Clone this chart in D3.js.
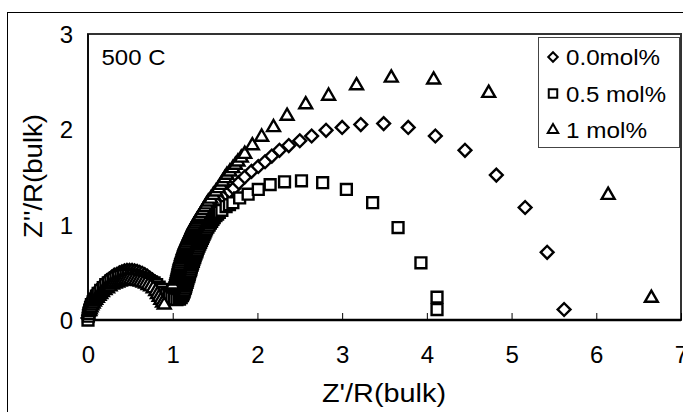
<!DOCTYPE html>
<html>
  <head>
    <meta charset="utf-8">
    <title>Nyquist 500 C</title>
    <script type="text/javascript" src="https://d3js.org/d3.v7.min.js"></script>
    <style>
      body { margin:0; background:#fff; }
      text { font-family: Arial, "Liberation Sans", sans-serif; fill:#000; }
    </style>
  </head>
  <body>
    <svg width="683" height="412"></svg>
    <script>
    	// tick labels and names
    	var xTicks = [0,1,2,3,4,5,6,7];
    	var yTicks = [0,1,2,3];
    	var seriesNames = ["0.0mol%","0.5 mol%","1 mol%"];

    	// 0.0mol% (diamonds)
    	var d00 = [[0.00,0.02],[0.01,0.05],[0.015,0.08],[0.02,0.11],[0.03,0.14],[0.04,0.17],[0.05,0.20],[0.07,0.23],
    		[0.09,0.26],[0.11,0.29],[0.13,0.32],[0.16,0.35],[0.19,0.38],[0.22,0.41],[0.25,0.43],[0.28,0.45],
    		[0.31,0.47],[0.34,0.48],[0.37,0.495],[0.40,0.505],[0.43,0.515],[0.46,0.52],[0.49,0.52],[0.52,0.52],
    		[0.55,0.515],[0.58,0.51],[0.61,0.50],[0.64,0.49],[0.67,0.475],[0.70,0.46],[0.73,0.44],[0.76,0.42],
    		[0.79,0.40],[0.82,0.38],[0.85,0.355],[0.88,0.33],[0.91,0.30],[0.94,0.275],[0.97,0.255],[1.00,0.24],
    		[1.03,0.245],[1.05,0.26],[1.07,0.29],[1.08,0.31],[1.085,0.33],[1.09,0.35],[1.095,0.37],[1.10,0.39],
    		[1.105,0.41],[1.11,0.43],[1.115,0.45],[1.12,0.47],[1.13,0.49],[1.135,0.51],[1.14,0.53],[1.15,0.55],
    		[1.155,0.57],[1.16,0.59],[1.17,0.61],[1.175,0.63],[1.18,0.65],[1.19,0.67],[1.20,0.69],[1.205,0.71],
    		[1.215,0.73],[1.22,0.75],[1.23,0.77],[1.24,0.79],[1.25,0.81],[1.255,0.83],[1.265,0.85],[1.275,0.87],
    		[1.285,0.89],[1.295,0.91],[1.305,0.93],[1.315,0.95],[1.33,0.97],[1.34,0.99],[1.355,1.01],[1.37,1.03],
    		[1.385,1.05],[1.40,1.07],[1.42,1.10],[1.45,1.14],[1.48,1.18],[1.51,1.21],[1.55,1.25],[1.59,1.29],
    		[1.63,1.32],[1.67,1.35],[1.72,1.38],[1.78,1.44],[1.85,1.50],[1.93,1.56],[2.01,1.61],[2.09,1.66],
    		[2.17,1.72],[2.26,1.78],[2.37,1.83],[2.50,1.88],[2.64,1.93],[2.81,1.99],[3.00,2.02],[3.22,2.05],
    		[3.49,2.06],[3.78,2.02],[4.10,1.93],[4.45,1.78],[4.82,1.52],[5.16,1.18],[5.42,0.71],[5.62,0.11]];

    	// 0.5 mol% (squares)
    	var d05 = [[0.00,0.00],[0.005,0.04],[0.01,0.07],[0.02,0.10],[0.03,0.13],[0.04,0.16],[0.06,0.19],[0.08,0.22],
    		[0.10,0.25],[0.12,0.28],[0.15,0.31],[0.18,0.34],[0.21,0.37],[0.24,0.39],[0.27,0.41],[0.30,0.425],
    		[0.33,0.44],[0.36,0.45],[0.39,0.46],[0.42,0.465],[0.45,0.47],[0.48,0.47],[0.51,0.47],[0.54,0.465],
    		[0.57,0.46],[0.60,0.45],[0.63,0.44],[0.66,0.43],[0.69,0.42],[0.72,0.41],[0.75,0.40],[0.78,0.39],
    		[0.81,0.37],[0.84,0.345],[0.87,0.32],[0.90,0.29],[0.93,0.265],[0.96,0.245],[0.99,0.23],[1.02,0.22],
    		[1.05,0.215],[1.08,0.22],[1.10,0.235],[1.115,0.255],[1.125,0.275],[1.135,0.295],[1.14,0.315],[1.15,0.335],
    		[1.155,0.355],[1.16,0.375],[1.17,0.395],[1.175,0.415],[1.18,0.435],[1.19,0.455],[1.195,0.475],[1.20,0.495],
    		[1.21,0.515],[1.215,0.535],[1.22,0.555],[1.23,0.575],[1.235,0.595],[1.245,0.615],[1.25,0.635],[1.26,0.655],
    		[1.265,0.675],[1.275,0.695],[1.285,0.715],[1.29,0.735],[1.30,0.755],[1.31,0.775],[1.32,0.795],[1.33,0.815],
    		[1.34,0.835],[1.35,0.855],[1.36,0.875],[1.37,0.895],[1.38,0.915],[1.39,0.935],[1.40,0.955],[1.415,0.975],
    		[1.43,0.995],[1.445,1.015],[1.46,1.035],[1.475,1.055],[1.49,1.075],[1.51,1.095],[1.53,1.11],[1.55,1.13],
    		[1.58,1.15],[1.63,1.19],[1.67,1.21],[1.71,1.23],[1.79,1.28],[1.89,1.32],[2.01,1.37],[2.15,1.42],
    		[2.32,1.45],[2.52,1.46],[2.77,1.44],[3.05,1.37],[3.36,1.23],[3.66,0.97],[3.93,0.60],[4.12,0.24],
    		[4.12,0.11]];

    	// 1 mol% (triangles)
    	var d10 = [[0.02,0.09],[0.025,0.11],[0.035,0.13],[0.045,0.15],[0.06,0.17],[0.075,0.19],[0.09,0.21],[0.11,0.23],
    		[0.13,0.25],[0.15,0.27],[0.17,0.29],[0.20,0.31],[0.23,0.33],[0.26,0.35],[0.29,0.37],[0.32,0.38],
    		[0.35,0.39],[0.38,0.40],[0.41,0.41],[0.44,0.415],[0.47,0.42],[0.50,0.42],[0.53,0.415],[0.56,0.41],
    		[0.59,0.405],[0.62,0.40],[0.65,0.39],[0.68,0.38],[0.71,0.365],[0.74,0.35],[0.77,0.33],[0.80,0.30],
    		[0.82,0.27],[0.84,0.24],[0.86,0.21],[0.88,0.18],[0.90,0.16],[1.00,0.37],[1.03,0.41],[1.04,0.43],
    		[1.045,0.45],[1.05,0.47],[1.055,0.49],[1.06,0.51],[1.065,0.53],[1.07,0.55],[1.075,0.57],[1.08,0.59],
    		[1.085,0.61],[1.09,0.63],[1.10,0.65],[1.105,0.67],[1.11,0.69],[1.12,0.71],[1.125,0.73],[1.135,0.75],
    		[1.14,0.77],[1.15,0.79],[1.16,0.81],[1.17,0.83],[1.18,0.85],[1.19,0.87],[1.20,0.89],[1.21,0.91],
    		[1.22,0.93],[1.23,0.95],[1.24,0.97],[1.25,0.99],[1.265,1.01],[1.28,1.03],[1.29,1.05],
    		[1.305,1.07],[1.32,1.09],[1.34,1.12],[1.36,1.15],[1.38,1.18],[1.40,1.21],[1.42,1.24],[1.45,1.27],
    		[1.48,1.31],[1.51,1.345],[1.54,1.38],[1.565,1.415],[1.59,1.45],[1.615,1.485],[1.64,1.52],[1.675,1.555],
    		[1.71,1.59],[1.74,1.625],[1.77,1.66],[1.81,1.70],[1.85,1.74],[1.94,1.83],[2.05,1.92],[2.19,2.02],
    		[2.35,2.14],[2.57,2.26],[2.84,2.35],[3.17,2.46],[3.58,2.54],[4.08,2.52],[4.73,2.38],[6.14,1.31],
    		[6.65,0.23]];

    	var svg = d3.select("svg");
    	var marge = {top:34, bottom:92, left:88, right:2};
    	var width = 683 - marge.left - marge.right;
    	var height = 412 - marge.top - marge.bottom;

    	// outer chart border
    	svg.append("rect")
    		.attr("x",7.5).attr("y",12.5)
    		.attr("width",700).attr("height",420)
    		.attr("fill","none").attr("stroke","#000").attr("stroke-width",1);

    	var g = svg.append("g")
    		.attr("transform","translate("+marge.left+","+marge.top+")");

    	var x = d3.scaleLinear().domain([0,7]).range([0,width]);
    	var y = d3.scaleLinear().domain([0,3]).range([height,0]);

    	// plot frame
    	g.append("rect")
    		.attr("width",width).attr("height",height)
    		.attr("fill","none").attr("stroke","#333").attr("stroke-width",2);

    	// x axis, ticks pointing inside
    	var xAxis = g.append("g")
    		.attr("transform","translate(0,"+height+")")
    		.call(d3.axisBottom(x).tickValues(xTicks).tickSize(-7).tickPadding(26).tickFormat(d3.format("d")));
    	xAxis.select(".domain").remove();
    	xAxis.selectAll("text").style("font-size","24px").attr("fill","#000");
    	xAxis.selectAll("line").attr("stroke","#000");

    	var yAxis = g.append("g")
    		.call(d3.axisLeft(y).tickValues(yTicks).tickSize(0).tickPadding(15).tickFormat(d3.format("d")));
    	yAxis.select(".domain").remove();
    	yAxis.selectAll("text").style("font-size","24px").attr("fill","#000").attr("dy","0.35em");

    	// axis lines
    	g.append("line").attr("x1",0).attr("x2",width).attr("y1",height).attr("y2",height)
    		.attr("stroke","#000").attr("stroke-width",2.5);
    	g.append("line").attr("x1",0).attr("x2",0).attr("y1",0).attr("y2",height)
    		.attr("stroke","#000").attr("stroke-width",1.5);

    	// marker shapes
    	var symDiamond = d3.symbol().type(d3.symbolSquare).size(82);
    	var symSquare = d3.symbol().type(d3.symbolSquare).size(118);
    	var symTriangle = d3.symbol().type(d3.symbolTriangle).size(72);

    	var series = [
    		{name:seriesNames[0], data:d00, sym:symDiamond, rot:45},
    		{name:seriesNames[1], data:d05, sym:symSquare, rot:0},
    		{name:seriesNames[2], data:d10, sym:symTriangle, rot:0}
    	];

    	var plot = g.append("g");
    	series.forEach(function(s){
    		plot.append("g")
    			.selectAll("path")
    			.data(s.data)
    			.enter()
    			.append("path")
    			.attr("d",s.sym)
    			.attr("transform",function(d){
    				return "translate("+x(d[0])+","+y(d[1])+") rotate("+s.rot+")";
    			})
    			.attr("fill","#fff")
    			.attr("stroke","#000")
    			.attr("stroke-width",2.4);
    	});

    	// temperature label
    	svg.append("text")
    		.attr("x",101.5).attr("y",65)
    		.attr("textLength",64).attr("lengthAdjust","spacingAndGlyphs")
    		.style("font-size","22px")
    		.text("500 C");

    	// legend
    	var legend = svg.append("g");
    	legend.append("rect")
    		.attr("x",538.5).attr("y",37.5).attr("width",141).attr("height",110)
    		.attr("fill","#fff").attr("stroke","#444").attr("stroke-width",1);
    	var legSyms = [
    		d3.symbol().type(d3.symbolSquare).size(45),
    		d3.symbol().type(d3.symbolSquare).size(72),
    		d3.symbol().type(d3.symbolTriangle).size(48)
    	];
    	var legLen = [94,100,81];
    	seriesNames.forEach(function(n,i){
    		var ly = 57 + i*36.5;
    		legend.append("path")
    			.attr("d",legSyms[i])
    			.attr("transform","translate(553,"+ly+") rotate("+series[i].rot+")")
    			.attr("fill","#fff").attr("stroke","#000").attr("stroke-width",2);
    		legend.append("text")
    			.attr("x",566).attr("y",ly+8)
    			.attr("textLength",legLen[i]).attr("lengthAdjust","spacingAndGlyphs")
    			.style("font-size","22px")
    			.text(n);
    	});

    	// axis titles
    	svg.append("text")
    		.attr("x",384).attr("y",402)
    		.attr("text-anchor","middle")
    		.attr("textLength",124).attr("lengthAdjust","spacingAndGlyphs")
    		.style("font-size","26px")
    		.text("Z'/R(bulk)");
    	svg.append("text")
    		.attr("transform","translate(42,176) rotate(-90)")
    		.attr("text-anchor","middle")
    		.attr("textLength",124).attr("lengthAdjust","spacingAndGlyphs")
    		.style("font-size","26px")
    		.text("Z''/R(bulk)");
    </script>
  </body>
</html>
